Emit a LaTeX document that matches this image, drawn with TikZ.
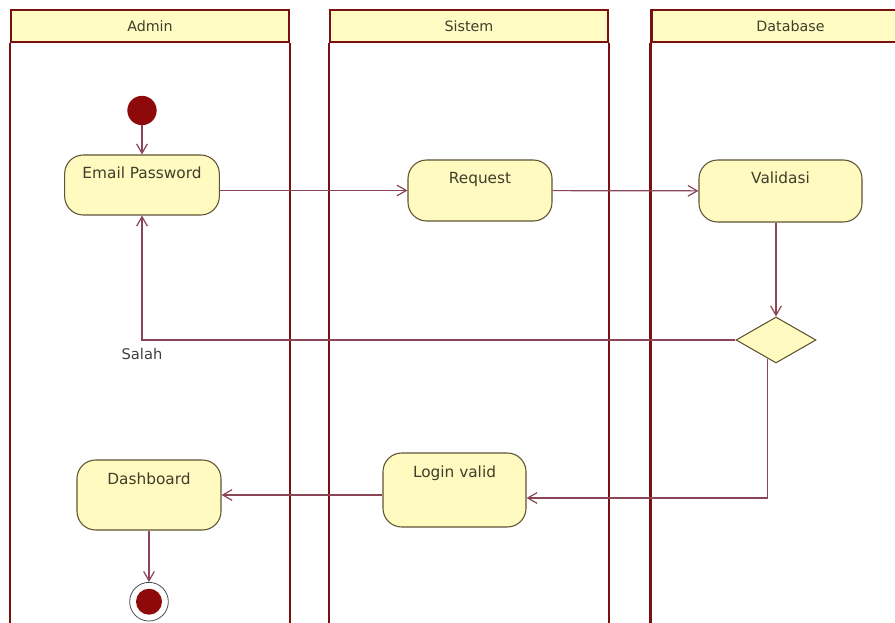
\documentclass[tikz,border=0pt]{standalone}
\usepackage{fontspec}
\setmainfont{DejaVu Sans}
\usetikzlibrary{arrows.meta,shapes.geometric}

\definecolor{lanered}{HTML}{7B1010}
\definecolor{headfill}{HTML}{FFFDC4}
\definecolor{actfill}{HTML}{FFFAC0}
\definecolor{actline}{HTML}{5E5434}
\definecolor{flowcol}{HTML}{8A4656}
\definecolor{txtcol}{HTML}{3E3E2A}
\definecolor{dotred}{HTML}{8E0A0A}

\begin{document}
\begin{tikzpicture}[
  x=0.75pt,
  y=-0.75pt,
  >={Straight Barb[length=7pt,width=8pt]},
  flow/.style={->,draw=flowcol,line width=.9pt},
  lane/.style={draw=lanered,line width=1.6pt},
  lanehead/.style={draw=lanered,line width=1.6pt,fill=headfill,
    minimum width=208.5pt,minimum height=24pt,inner sep=0pt,
    text=txtcol,font=\fontsize{10.7pt}{13pt}\selectfont},
  activity/.style={draw=actline,line width=.8pt,fill=actfill,
    rounded corners=14pt,inner ysep=4pt,text height=14pt,text depth=#1,
    text=txtcol,font=\fontsize{11.5pt}{13pt}\selectfont},
  decision/.style={diamond,draw=actline,line width=.8pt,fill=actfill,
    minimum width=60pt,minimum height=34.5pt,inner sep=0pt},
  startdot/.style={circle,fill=dotred,minimum size=22pt,inner sep=0pt},
  enddot/.style={circle,draw=black!70,line width=.6pt,fill=white,
    minimum size=29pt,inner sep=0pt,
    path picture={\fill[dotred] (path picture bounding box.center) circle (9.75pt);}},
  guard/.style={text=black!75,font=\fontsize{11pt}{13pt}\selectfont,inner sep=0pt}
]
\clip (0,0) rectangle (895,623);
\fill[white] (0,0) rectangle (895,623);

% swimlanes
\node[lanehead] (admin) at (150,26.3) {Admin};
\node[lanehead] (sistem) at (469,26.3) {Sistem};
\node[lanehead] (database) at (790.5,26.3) {Database};
\foreach \l in {admin,sistem,database}{
  \draw[lane] (\l.south west) -- ++(0,600);
  \draw[lane] (\l.south east) -- ++(0,600);
}

% activities
\node[startdot] (start) at (142,110.5) {};
\node[activity=23pt,minimum width=116pt] (email) at (142,185) {Email Password};
\node[activity=23.75pt,minimum width=108pt] (request) at (480,190.5) {Request};
\node[activity=24.5pt,minimum width=122.25pt] (validasi) at (780.5,191) {Validasi};
\node[decision] (check) at (776,340) {};
\node[activity=33.5pt,minimum width=107.25pt] (login) at (454.5,490) {Login valid};
\node[activity=30.5pt,minimum width=108pt] (dashboard) at (149,495) {Dashboard};
\node[enddot] (stop) at (149,601.7) {};

% flows
\draw[flow] (start) -- (email);
\draw[flow] (request.west -| email.east) -- (request.west);
\draw[flow] (request) -- (validasi);
\draw[flow] (check.north |- validasi.south) -- (check);
\draw[flow] (check) -| node[guard,pos=.5,below=6pt] (salah) {Salah} (email);
\draw[flow] (check.246) |- ([yshift=-6pt]login.east);
\draw[flow] (login.west |- dashboard.east) -- (dashboard.east);
\draw[flow] (dashboard) -- (stop);

\end{tikzpicture}
\end{document}
